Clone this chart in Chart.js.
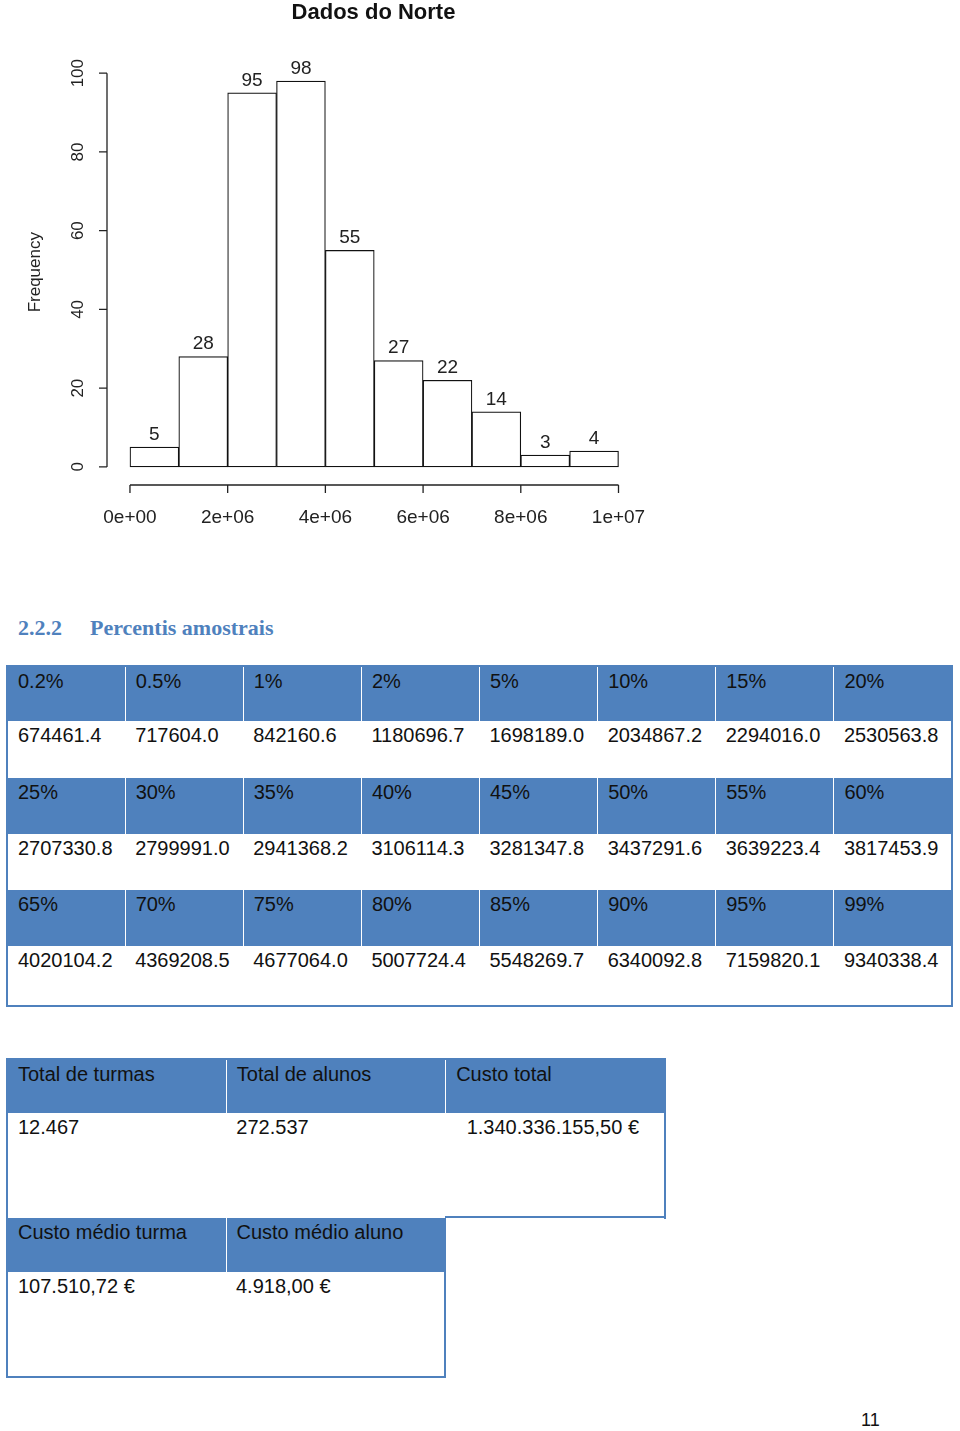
<!DOCTYPE html>
<html>
<head>
<meta charset="utf-8">
<script src="https://cdn.jsdelivr.net/npm/chart.js@4/dist/chart.umd.min.js"></script>
<style>
  body { margin: 0; background: #fff; width: 960px; height: 1431px; position: relative; overflow: hidden; }
  #chartBox { position: absolute; left: 0; top: 0; width: 960px; height: 560px; }
  .heading { position: absolute; top: 615px; font-family: "Liberation Serif", serif; font-weight: bold; font-size: 22px; color: #4f81bd; }
  table { position: absolute; border-collapse: collapse; table-layout: fixed; font-family: "Liberation Sans", Arial, sans-serif; font-size: 20px; color: #111; }
  td { padding: 2px 0 0 10px; vertical-align: top; line-height: 24px; white-space: nowrap; overflow: hidden; }
  tr.hd td { background: #4f81bd; }
  tr.hd td + td { border-left: 1px solid rgba(255,255,255,0.3); }
  .pg { position: absolute; left: 861px; top: 1410px; font-family: "Liberation Sans", Arial, sans-serif; font-size: 18px; color: #111; }
</style>
</head>
<body>
<div id="chartBox"><canvas id="myChart" width="960" height="560"></canvas></div>

<div class="heading" style="left:18px">2.2.2</div>
<div class="heading" style="left:90px">Percentis amostrais</div>

<table id="pctTable" style="left:6px; top:665px; width:947px; border:2px solid #4f81bd;"></table>

<table style="left:6px; top:1058px; width:660px; border:2px solid #4f81bd; border-bottom:none;">
  <tr class="hd" style="height:54px"><td>Total de turmas</td><td>Total de alunos</td><td>Custo total</td></tr>
  <tr style="height:106px"><td>12.467</td><td>272.537</td><td style="padding-left:21px">1.340.336.155,50 €</td></tr>
</table>
<table style="left:6px; top:1218px; width:440px; border:2px solid #4f81bd; border-top:none;">
  <tr class="hd" style="height:54px"><td>Custo médio turma</td><td>Custo médio aluno</td></tr>
  <tr style="height:105px"><td>107.510,72 €</td><td>4.918,00 €</td></tr>
</table>
<div style="position:absolute; left:445px; top:1216px; width:221px; height:2px; background:#4f81bd;"></div>

<div class="pg">11</div>

<script>
// histogram data (bins of 1e6)
var binStarts = [0, 1e6, 2e6, 3e6, 4e6, 5e6, 6e6, 7e6, 8e6, 9e6];
var binWidth = 1e6;
var counts = [5, 28, 95, 98, 55, 27, 22, 14, 3, 4];
var yTicks = [0, 20, 40, 60, 80, 100];
var xTicks = [0, 2e6, 4e6, 6e6, 8e6, 1e7];
var xTickLabels = ["0e+00", "2e+06", "4e+06", "6e+06", "8e+06", "1e+07"];

// percentile table
var pctLabels = ["0.2%", "0.5%", "1%", "2%", "5%", "10%", "15%", "20%",
                 "25%", "30%", "35%", "40%", "45%", "50%", "55%", "60%",
                 "65%", "70%", "75%", "80%", "85%", "90%", "95%", "99%"];
var pctValues = ["674461.4", "717604.0", "842160.6", "1180696.7", "1698189.0", "2034867.2", "2294016.0", "2530563.8",
                 "2707330.8", "2799991.0", "2941368.2", "3106114.3", "3281347.8", "3437291.6", "3639223.4", "3817453.9",
                 "4020104.2", "4369208.5", "4677064.0", "5007724.4", "5548269.7", "6340092.8", "7159820.1", "9340338.4"];

var rowH = [[55, 57], [56, 56], [56, 60]];
var html = "";
for (var r = 0; r < 3; r++) {
    html += '<tr class="hd" style="height:' + rowH[r][0] + 'px">';
    for (var c = 0; c < 8; c++) html += "<td>" + pctLabels[r * 8 + c] + "</td>";
    html += '</tr><tr style="height:' + rowH[r][1] + 'px">';
    for (var c = 0; c < 8; c++) html += "<td>" + pctValues[r * 8 + c] + "</td>";
    html += "</tr>";
}
document.getElementById("pctTable").innerHTML = html;

var chartFont = "Liberation Sans, Arial, sans-serif";

// R style axes, labels over bars
var rAxes = {
    id: "rAxes",
    afterDatasetsDraw: function (chart) {
        var ctx = chart.ctx;
        var xs = chart.scales.x, ys = chart.scales.y;
        var area = chart.chartArea;
        ctx.save();
        ctx.strokeStyle = "#222";
        ctx.fillStyle = "#222";
        ctx.lineWidth = 1.3;

        // y axis
        var ax = area.left;
        ctx.beginPath();
        ctx.moveTo(ax, ys.getPixelForValue(yTicks[0]));
        ctx.lineTo(ax, ys.getPixelForValue(yTicks[yTicks.length - 1]));
        yTicks.forEach(function (t) {
            var py = ys.getPixelForValue(t);
            ctx.moveTo(ax, py);
            ctx.lineTo(ax - 8, py);
        });
        ctx.stroke();
        ctx.font = "17px " + chartFont;
        ctx.textAlign = "center";
        ctx.textBaseline = "middle";
        yTicks.forEach(function (t) {
            var py = ys.getPixelForValue(t);
            ctx.save();
            ctx.translate(ax - 29, py);
            ctx.rotate(-Math.PI / 2);
            ctx.fillText(String(t), 0, 0);
            ctx.restore();
        });

        // axis title
        ctx.save();
        ctx.font = "17px " + chartFont;
        ctx.translate(35, (area.top + area.bottom) / 2);
        ctx.rotate(-Math.PI / 2);
        ctx.fillText("Frequency", 0, 0);
        ctx.restore();

        // x axis
        var ay = area.bottom;
        ctx.beginPath();
        ctx.moveTo(xs.getPixelForValue(xTicks[0]), ay);
        ctx.lineTo(xs.getPixelForValue(xTicks[xTicks.length - 1]), ay);
        xTicks.forEach(function (t) {
            var px = xs.getPixelForValue(t);
            ctx.moveTo(px, ay);
            ctx.lineTo(px, ay + 8);
        });
        ctx.stroke();
        ctx.font = "19px " + chartFont;
        xTicks.forEach(function (t, i) {
            ctx.fillText(xTickLabels[i], xs.getPixelForValue(t), ay + 33);
        });

        // counts above bars
        ctx.textBaseline = "bottom";
        chart.getDatasetMeta(0).data.forEach(function (bar, i) {
            ctx.fillText(String(counts[i]), bar.x, bar.y - 3);
        });
        ctx.restore();
    }
};

var ctx = document.getElementById("myChart").getContext("2d");

var myChart = new Chart(ctx, {
    type: "bar",
    data: {
        datasets: [{
            data: binStarts.map(function (s, i) { return { x: s + binWidth / 2, y: counts[i] }; }),
            backgroundColor: "#ffffff",
            borderColor: "#111",
            borderWidth: 1.2,
            borderSkipped: false,
            barPercentage: 1,
            categoryPercentage: 1
        }]
    },
    options: {
        responsive: false,
        animation: false,
        devicePixelRatio: 1,
        layout: { padding: { left: 107, right: 320, top: 0, bottom: 75 } },
        plugins: {
            legend: { display: false },
            tooltip: { enabled: false },
            title: {
                display: true,
                text: "Dados do Norte",
                color: "#111",
                font: { family: chartFont, size: 22, weight: "bold" },
                padding: { top: 0, bottom: 33 }
            }
        },
        scales: {
            x: { type: "linear", min: -0.47e6, max: 1.044e7, display: false, offset: false },
            y: { min: -4.6, max: 103.5, display: false }
        }
    },
    plugins: [rAxes]
});
</script>
</body>
</html>
